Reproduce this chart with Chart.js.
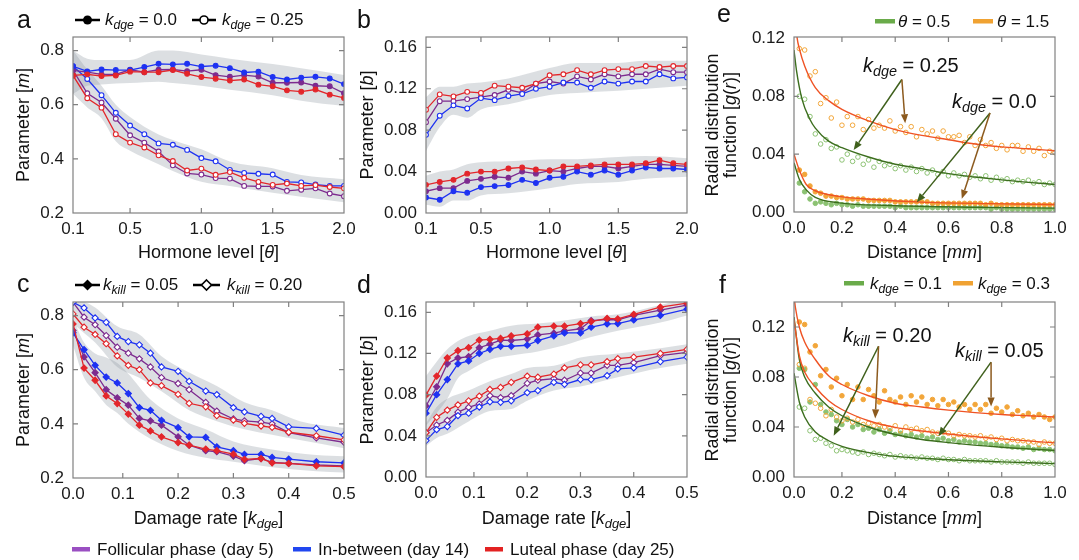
<!DOCTYPE html>
<html>
<head>
<meta charset="utf-8">
<script src="https://cdn.jsdelivr.net/npm/chart.js@4.4.1/dist/chart.umd.min.js"></script>
<style>
body { margin: 0; background: #fff; }
#page { position: relative; width: 1079px; height: 560px; overflow: hidden; font-family: "Liberation Sans", Arial, sans-serif; color: #111; }
.cv { position: absolute; }
.ov { position: absolute; left: 0; top: 0; pointer-events: none; }
.t { position: absolute; white-space: nowrap; line-height: 1; }
.t sub { font-size: 0.72em; line-height: 0; vertical-align: -0.3em; font-style: italic; }
.c { transform: translateX(-50%); }
.r { transform: translate(-50%, -50%) rotate(-90deg); }
.let { font-size: 25px; }
.lg { font-size: 17px; }
.ax { font-size: 18px; }
.an { font-size: 20px; }
</style>
</head>
<body>
<div id="page">
  <canvas id="ca" class="cv" style="left:0px;top:30px" width="360" height="215"></canvas>
  <canvas id="cb" class="cv" style="left:360px;top:30px" width="350" height="215"></canvas>
  <canvas id="ce" class="cv" style="left:745px;top:30px" width="334" height="215"></canvas>
  <canvas id="cc" class="cv" style="left:0px;top:295px" width="360" height="215"></canvas>
  <canvas id="cd" class="cv" style="left:360px;top:295px" width="350" height="215"></canvas>
  <canvas id="cf" class="cv" style="left:745px;top:295px" width="334" height="215"></canvas>

  <svg class="ov" width="1079" height="560">
    <line x1="75" y1="20" x2="100" y2="20" stroke="#000" stroke-width="2.5"/>
    <circle cx="87.5" cy="20" r="4.5" fill="#000"/>
    <line x1="192" y1="20" x2="216" y2="20" stroke="#000" stroke-width="2.5"/>
    <circle cx="204" cy="20" r="4" fill="#fff" stroke="#000" stroke-width="1.6"/>
    <line x1="75" y1="285" x2="100" y2="285" stroke="#000" stroke-width="2.5"/>
    <polygon points="87.5,279.5 93,285 87.5,290.5 82,285" fill="#000"/>
    <line x1="193" y1="285" x2="220" y2="285" stroke="#000" stroke-width="2.5"/>
    <polygon points="206.5,280 211.5,285 206.5,290 201.5,285" fill="#fff" stroke="#000" stroke-width="1.6"/>
    <rect x="875" y="19" width="20" height="4.5" fill="#6aab4a"/>
    <rect x="973" y="19" width="20" height="4.5" fill="#f0a232"/>
    <rect x="844" y="281" width="20" height="4.5" fill="#6aab4a"/>
    <rect x="953" y="281" width="20" height="4.5" fill="#f0a232"/>
    <rect x="72" y="547" width="18" height="4.5" fill="#9a4fc2"/>
    <rect x="293" y="547" width="18" height="4.5" fill="#2147f0"/>
    <rect x="485" y="547" width="18" height="4.5" fill="#e32222"/>
  </svg>

  <div class="t let" style="left:17px;top:7px">a</div>
  <div class="t let" style="left:357px;top:7px">b</div>
  <div class="t let" style="left:717px;top:1px">e</div>
  <div class="t let" style="left:17px;top:271px">c</div>
  <div class="t let" style="left:357px;top:272px">d</div>
  <div class="t let" style="left:719px;top:272px">f</div>

  <div class="t lg" style="left:105px;top:10.6px"><i>k</i><sub>dge</sub> = 0.0</div>
  <div class="t lg" style="left:222px;top:10.6px"><i>k</i><sub>dge</sub> = 0.25</div>
  <div class="t lg" style="left:103px;top:275.6px"><i>k</i><sub>kill</sub> = 0.05</div>
  <div class="t lg" style="left:227px;top:275.6px"><i>k</i><sub>kill</sub> = 0.20</div>
  <div class="t lg" style="left:898px;top:12.6px"><i>θ</i> = 0.5</div>
  <div class="t lg" style="left:997px;top:12.6px"><i>θ</i> = 1.5</div>
  <div class="t lg" style="left:870px;top:274.6px"><i>k</i><sub>dge</sub> = 0.1</div>
  <div class="t lg" style="left:978px;top:274.6px"><i>k</i><sub>dge</sub> = 0.3</div>
  <div class="t lg" style="left:97px;top:540.6px">Follicular phase (day 5)</div>
  <div class="t lg" style="left:318px;top:540.6px">In-between (day 14)</div>
  <div class="t lg" style="left:510px;top:540.6px">Luteal phase (day 25)</div>

  <div class="t ax c" style="left:208.5px;top:242.8px">Hormone level [<i>θ</i>]</div>
  <div class="t ax c" style="left:556.5px;top:242.8px">Hormone level [<i>θ</i>]</div>
  <div class="t ax c" style="left:924.5px;top:242.8px">Distance [<i>mm</i>]</div>
  <div class="t ax c" style="left:208.5px;top:508.8px">Damage rate [<i>k</i><sub>dge</sub>]</div>
  <div class="t ax c" style="left:556.5px;top:508.8px">Damage rate [<i>k</i><sub>dge</sub>]</div>
  <div class="t ax c" style="left:924.5px;top:508.8px">Distance [<i>mm</i>]</div>

  <div class="t ax r" style="left:23px;top:125px">Parameter [<i>m</i>]</div>
  <div class="t ax r" style="left:367px;top:125px">Parameter [<i>b</i>]</div>
  <div class="t ax r" style="left:712px;top:125px">Radial distribution</div>
  <div class="t ax r" style="left:730px;top:125px">function [<i>g</i>(<i>r</i>)]</div>
  <div class="t ax r" style="left:23px;top:390px">Parameter [<i>m</i>]</div>
  <div class="t ax r" style="left:367px;top:390px">Parameter [<i>b</i>]</div>
  <div class="t ax r" style="left:712px;top:390px">Radial distribution</div>
  <div class="t ax r" style="left:730px;top:390px">function [<i>g</i>(<i>r</i>)]</div>

  <div class="t an" style="left:863px;top:55px"><i>k</i><sub>dge</sub> = 0.25</div>
  <div class="t an" style="left:952px;top:91px"><i>k</i><sub>dge</sub> = 0.0</div>
  <div class="t an" style="left:843px;top:325px"><i>k</i><sub>kill</sub> = 0.20</div>
  <div class="t an" style="left:955px;top:340px"><i>k</i><sub>kill</sub> = 0.05</div>
</div>

<script>
// hormone level (panels a, b)
const hormone = [0.1, 0.2, 0.3, 0.4, 0.5, 0.6, 0.7, 0.8, 0.9, 1.0, 1.1, 1.2, 1.3, 1.4, 1.5, 1.6, 1.7, 1.8, 1.9, 2.0];
// damage rate (panels c, d)
const damage = [0.01, 0.03, 0.05, 0.07, 0.09, 0.11, 0.13, 0.15, 0.17, 0.20, 0.22, 0.25, 0.27, 0.30, 0.32, 0.35, 0.37, 0.40, 0.45, 0.50];
// distance bins (panels e, f)
const dist = [0.04, 0.06, 0.08, 0.10, 0.12, 0.14, 0.16, 0.18, 0.20, 0.22, 0.24, 0.26, 0.28, 0.30, 0.32, 0.34, 0.36, 0.38, 0.40, 0.42,
              0.44, 0.46, 0.48, 0.50, 0.52, 0.54, 0.56, 0.58, 0.60, 0.62, 0.64, 0.66, 0.68, 0.70, 0.72, 0.74, 0.76, 0.78, 0.80, 0.82,
              0.84, 0.86, 0.88, 0.90, 0.92, 0.94, 0.96, 0.98, 1.00];

// panel a: parameter m vs hormone level
const aPurpleSolid = [0.727, 0.720, 0.712, 0.712, 0.729, 0.720, 0.729, 0.730, 0.724, 0.729, 0.709, 0.703, 0.709, 0.704, 0.681, 0.681, 0.682, 0.670, 0.668, 0.642];
const aBlueSolid   = [0.742, 0.723, 0.730, 0.728, 0.728, 0.739, 0.751, 0.749, 0.751, 0.741, 0.744, 0.735, 0.719, 0.722, 0.702, 0.693, 0.700, 0.703, 0.697, 0.676];
const aRedSolid    = [0.708, 0.712, 0.706, 0.708, 0.722, 0.720, 0.720, 0.728, 0.714, 0.702, 0.696, 0.689, 0.693, 0.674, 0.668, 0.653, 0.648, 0.656, 0.637, 0.625];
const aPurpleOpen  = [0.727, 0.642, 0.608, 0.548, 0.487, 0.460, 0.427, 0.376, 0.346, 0.342, 0.329, 0.327, 0.300, 0.298, 0.298, 0.282, 0.286, 0.291, 0.272, 0.262];
const aBlueOpen    = [0.742, 0.695, 0.635, 0.570, 0.523, 0.491, 0.457, 0.452, 0.433, 0.403, 0.391, 0.359, 0.348, 0.345, 0.342, 0.315, 0.313, 0.305, 0.300, 0.300];
const aRedOpen     = [0.708, 0.624, 0.589, 0.491, 0.460, 0.442, 0.413, 0.392, 0.357, 0.364, 0.341, 0.351, 0.330, 0.315, 0.304, 0.309, 0.300, 0.303, 0.296, 0.291];
const aBandX = [0.1, 0.2, 0.3, 0.4, 0.5, 0.7, 0.8, 1.0, 1.2, 1.5, 1.7, 2.0];
const aSolidLo = [0.640, 0.670, 0.675, 0.678, 0.680, 0.685, 0.680, 0.670, 0.655, 0.635, 0.615, 0.595];
const aSolidHi = [0.800, 0.770, 0.765, 0.765, 0.765, 0.800, 0.800, 0.785, 0.770, 0.750, 0.735, 0.710];
const aOpenLo  = [0.640, 0.590, 0.550, 0.465, 0.430, 0.380, 0.355, 0.315, 0.300, 0.275, 0.260, 0.240];
const aOpenHi  = [0.800, 0.730, 0.670, 0.600, 0.555, 0.490, 0.470, 0.435, 0.390, 0.365, 0.340, 0.325];

// panel b: parameter b vs hormone level
const bPurpleOpen  = [0.0877, 0.108, 0.108, 0.110, 0.112, 0.114, 0.119, 0.116, 0.125, 0.127, 0.125, 0.132, 0.129, 0.134, 0.132, 0.134, 0.134, 0.139, 0.136, 0.136];
const bBlueOpen    = [0.0755, 0.094, 0.104, 0.101, 0.111, 0.109, 0.113, 0.115, 0.120, 0.122, 0.126, 0.126, 0.121, 0.127, 0.125, 0.127, 0.127, 0.134, 0.130, 0.131];
const bRedOpen     = [0.0998, 0.1146, 0.1126, 0.117, 0.116, 0.123, 0.122, 0.121, 0.125, 0.133, 0.134, 0.138, 0.134, 0.138, 0.139, 0.139, 0.142, 0.141, 0.142, 0.142];
const bPurpleSolid = [0.021, 0.024, 0.024, 0.031, 0.033, 0.035, 0.034, 0.040, 0.038, 0.041, 0.040, 0.043, 0.045, 0.045, 0.043, 0.045, 0.047, 0.047, 0.046, 0.045];
const bBlueSolid   = [0.015, 0.0128, 0.021, 0.0195, 0.025, 0.026, 0.027, 0.032, 0.029, 0.034, 0.035, 0.040, 0.037, 0.041, 0.037, 0.041, 0.044, 0.043, 0.043, 0.042];
const bRedSolid    = [0.0272, 0.030, 0.032, 0.038, 0.040, 0.040, 0.043, 0.044, 0.042, 0.041, 0.045, 0.045, 0.046, 0.047, 0.047, 0.047, 0.048, 0.051, 0.048, 0.047];
const bBandX = [0.1, 0.2, 0.3, 0.4, 0.5, 0.7, 1.0, 1.2, 1.5, 1.7, 2.0];
const bOpenLo  = [0.060, 0.083, 0.095, 0.092, 0.100, 0.105, 0.114, 0.116, 0.118, 0.120, 0.123];
const bOpenHi  = [0.112, 0.122, 0.122, 0.125, 0.126, 0.130, 0.140, 0.145, 0.145, 0.147, 0.147];
const bSolidLo = [0.008, 0.006, 0.012, 0.012, 0.017, 0.019, 0.024, 0.028, 0.030, 0.033, 0.035];
const bSolidHi = [0.036, 0.040, 0.042, 0.047, 0.049, 0.050, 0.052, 0.052, 0.054, 0.055, 0.053];

// panel c: parameter m vs damage rate
const cPurpleOpen  = [0.849, 0.794, 0.766, 0.726, 0.683, 0.661, 0.640, 0.610, 0.571, 0.549, 0.526, 0.479, 0.447, 0.418, 0.411, 0.406, 0.400, 0.368, 0.348, 0.332];
const cBlueOpen    = [0.849, 0.828, 0.791, 0.775, 0.723, 0.704, 0.692, 0.661, 0.610, 0.594, 0.557, 0.521, 0.508, 0.460, 0.444, 0.428, 0.420, 0.389, 0.383, 0.358];
const cRedOpen     = [0.806, 0.757, 0.730, 0.696, 0.651, 0.616, 0.600, 0.551, 0.541, 0.509, 0.476, 0.463, 0.430, 0.414, 0.402, 0.392, 0.387, 0.369, 0.356, 0.341];
const cPurpleSolid = [0.745, 0.647, 0.589, 0.526, 0.496, 0.469, 0.420, 0.411, 0.395, 0.352, 0.321, 0.301, 0.297, 0.281, 0.264, 0.272, 0.258, 0.254, 0.248, 0.245];
const cBlueSolid   = [0.736, 0.674, 0.616, 0.573, 0.551, 0.512, 0.460, 0.450, 0.413, 0.386, 0.352, 0.350, 0.315, 0.301, 0.287, 0.287, 0.276, 0.270, 0.260, 0.256];
const cRedSolid    = [0.769, 0.606, 0.561, 0.503, 0.475, 0.436, 0.395, 0.374, 0.352, 0.331, 0.321, 0.307, 0.301, 0.288, 0.269, 0.272, 0.256, 0.254, 0.245, 0.242];
const cOpenX  = [0.01, 0.05, 0.09, 0.13, 0.17, 0.22, 0.27, 0.32, 0.37, 0.42, 0.50];
const cOpenLo = [0.770, 0.700, 0.610, 0.570, 0.520, 0.450, 0.410, 0.380, 0.360, 0.340, 0.310];
const cOpenHi = [0.870, 0.830, 0.760, 0.730, 0.650, 0.590, 0.540, 0.480, 0.450, 0.410, 0.385];
const cSolidX  = [0.01, 0.03, 0.05, 0.07, 0.09, 0.11, 0.15, 0.20, 0.25, 0.30, 0.37, 0.45, 0.50];
const cSolidLo = [0.690, 0.570, 0.520, 0.470, 0.440, 0.400, 0.345, 0.300, 0.275, 0.260, 0.240, 0.225, 0.220];
const cSolidHi = [0.790, 0.700, 0.660, 0.645, 0.625, 0.585, 0.490, 0.420, 0.380, 0.335, 0.305, 0.285, 0.280];

// panel d: parameter b vs damage rate
const dPurpleSolid = [0.069, 0.0876, 0.110, 0.1156, 0.117, 0.1256, 0.129, 0.133, 0.1326, 0.134, 0.138, 0.1397, 0.142, 0.144, 0.152, 0.153, 0.1526, 0.157, 0.162, 0.167];
const dBlueSolid   = [0.062, 0.080, 0.0947, 0.110, 0.1127, 0.120, 0.124, 0.127, 0.127, 0.128, 0.1326, 0.137, 0.140, 0.140, 0.1455, 0.1487, 0.149, 0.1526, 0.157, 0.163];
const dRedSolid    = [0.0795, 0.098, 0.1156, 0.1227, 0.1256, 0.133, 0.1336, 0.1346, 0.137, 0.139, 0.1455, 0.1465, 0.1465, 0.149, 0.151, 0.154, 0.1536, 0.158, 0.165, 0.169];
const dPurpleOpen  = [0.043, 0.0505, 0.055, 0.063, 0.0676, 0.071, 0.079, 0.077, 0.079, 0.091, 0.094, 0.0956, 0.094, 0.101, 0.101, 0.1085, 0.1085, 0.111, 0.118, 0.121];
const dBlueOpen    = [0.0354, 0.046, 0.049, 0.0596, 0.062, 0.068, 0.073, 0.0725, 0.074, 0.082, 0.084, 0.092, 0.090, 0.0947, 0.0947, 0.0985, 0.105, 0.106, 0.112, 0.1165];
const dRedOpen     = [0.043, 0.058, 0.065, 0.070, 0.074, 0.0786, 0.085, 0.087, 0.092, 0.098, 0.097, 0.100, 0.106, 0.109, 0.109, 0.112, 0.115, 0.1165, 0.120, 0.124];
const dSolidX  = [0.01, 0.03, 0.05, 0.07, 0.09, 0.13, 0.17, 0.22, 0.27, 0.32, 0.37, 0.45, 0.50];
const dSolidLo = [0.050, 0.062, 0.076, 0.096, 0.103, 0.114, 0.118, 0.122, 0.128, 0.136, 0.142, 0.150, 0.157];
const dSolidHi = [0.098, 0.112, 0.124, 0.132, 0.137, 0.142, 0.147, 0.149, 0.152, 0.156, 0.158, 0.167, 0.174];
const dOpenX  = [0.01, 0.03, 0.05, 0.09, 0.13, 0.17, 0.20, 0.25, 0.30, 0.37, 0.45, 0.50];
const dOpenLo = [0.030, 0.038, 0.042, 0.054, 0.064, 0.066, 0.074, 0.084, 0.088, 0.097, 0.106, 0.110];
const dOpenHi = [0.052, 0.068, 0.076, 0.084, 0.093, 0.100, 0.106, 0.108, 0.116, 0.120, 0.125, 0.129];

// panel e: g(r), open = k_dge 0.25, filled = k_dge 0.0
const eOrangeOpen = [0.113, 0.112, 0.094, 0.097, 0.075, 0.079, 0.065, 0.076, 0.060, 0.066,
                     0.060, 0.066, 0.057, 0.064, 0.058, 0.060, 0.058, 0.063, 0.056, 0.059,
                     0.055, 0.059, 0.052, 0.057, 0.054, 0.056, 0.051, 0.056, 0.052, 0.052,
                     0.053, 0.048, 0.052, 0.046, 0.050, 0.046, 0.048, 0.044, 0.046, 0.043,
                     0.046, 0.046, 0.042, 0.045, 0.042, 0.044, 0.039, 0.042, 0.041];
const eGreenOpen  = [0.080, 0.078, 0.066, 0.054, 0.047, 0.050, 0.044, 0.045, 0.036, 0.040,
                     0.035, 0.038, 0.033, 0.036, 0.031, 0.035, 0.032, 0.033, 0.030, 0.032,
                     0.029, 0.031, 0.028, 0.030, 0.027, 0.029, 0.026, 0.028, 0.025, 0.027,
                     0.025, 0.026, 0.024, 0.025, 0.023, 0.025, 0.022, 0.024, 0.022, 0.023,
                     0.021, 0.022, 0.021, 0.022, 0.020, 0.021, 0.019, 0.020, 0.019];
const eOrangeSolid = [0.029, 0.026, 0.018, 0.014, 0.013, 0.011, 0.011, 0.010, 0.010, 0.009,
                      0.009, 0.009, 0.009, 0.008, 0.008, 0.008, 0.008, 0.008, 0.007, 0.007,
                      0.007, 0.007, 0.007, 0.007, 0.007, 0.006, 0.006, 0.006, 0.006, 0.006,
                      0.006, 0.006, 0.006, 0.006, 0.006, 0.005, 0.006, 0.005, 0.005, 0.005,
                      0.005, 0.005, 0.005, 0.005, 0.005, 0.005, 0.005, 0.005, 0.005];
const eGreenSolid = [0.020, 0.014, 0.009, 0.006, 0.007, 0.006, 0.005, 0.006, 0.005, 0.005,
                     0.004, 0.005, 0.004, 0.004, 0.004, 0.004, 0.004, 0.004, 0.003, 0.004,
                     0.003, 0.003, 0.003, 0.003, 0.003, 0.003, 0.003, 0.003, 0.003, 0.003,
                     0.003, 0.003, 0.003, 0.003, 0.003, 0.003, 0.002, 0.003, 0.002, 0.002,
                     0.002, 0.002, 0.002, 0.002, 0.002, 0.002, 0.002, 0.002, 0.002];
const eFitOrangeHiX = [0.028, 0.032, 0.04, 0.06, 0.1, 0.15, 0.2, 0.3, 0.4, 0.5, 0.6, 0.7, 0.8, 0.9, 1.0];
const eFitOrangeHi  = [0.128, 0.120, 0.113, 0.101, 0.086, 0.077, 0.071, 0.063, 0.057, 0.053, 0.050, 0.047, 0.045, 0.0437, 0.0423];
const eFitGreenHiX = [0.02, 0.03, 0.05, 0.08, 0.1, 0.15, 0.2, 0.3, 0.4, 0.5, 0.6, 0.7, 0.8, 0.9, 1.0];
const eFitGreenHi  = [0.112, 0.097, 0.078, 0.064, 0.058, 0.049, 0.0445, 0.038, 0.033, 0.030, 0.0265, 0.0242, 0.0222, 0.0205, 0.019];
const eFitOrangeLoX = [0.02, 0.04, 0.066, 0.1, 0.19, 0.32, 0.5, 0.75, 1.0];
const eFitOrangeLo  = [0.040, 0.029, 0.019, 0.0147, 0.0108, 0.0086, 0.0068, 0.0058, 0.0052];
const eFitGreenLoX = [0.02, 0.04, 0.066, 0.1, 0.19, 0.38, 0.7, 1.0];
const eFitGreenLo  = [0.034, 0.0226, 0.0153, 0.0101, 0.0063, 0.0045, 0.0033, 0.0027];

// panel f: g(r), filled = k_kill 0.05, open = k_kill 0.20
const fOrangeSolid = [0.124, 0.122, 0.100, 0.105, 0.081, 0.086, 0.072, 0.079, 0.065, 0.074,
                      0.062, 0.072, 0.062, 0.070, 0.065, 0.060, 0.069, 0.062, 0.060, 0.064,
                      0.058, 0.065, 0.060, 0.064, 0.058, 0.062, 0.057, 0.062, 0.058, 0.060,
                      0.056, 0.058, 0.054, 0.058, 0.054, 0.058, 0.051, 0.055, 0.052, 0.056,
                      0.050, 0.053, 0.049, 0.051, 0.048, 0.050, 0.048, 0.046, 0.048];
const fOrangeOpen = [0.090, 0.087, 0.062, 0.059, 0.055, 0.049, 0.054, 0.048, 0.045, 0.047,
                     0.044, 0.046, 0.042, 0.043, 0.041, 0.042, 0.040, 0.039, 0.041, 0.037,
                     0.040, 0.038, 0.039, 0.037, 0.038, 0.036, 0.035, 0.036, 0.035, 0.033,
                     0.034, 0.033, 0.033, 0.032, 0.033, 0.031, 0.032, 0.030, 0.031, 0.029,
                     0.030, 0.029, 0.029, 0.028, 0.028, 0.026, 0.028, 0.027, 0.027];
const fGreenSolid = [0.087, 0.086, 0.060, 0.074, 0.058, 0.052, 0.050, 0.045, 0.042, 0.046,
                     0.040, 0.042, 0.038, 0.039, 0.036, 0.038, 0.035, 0.037, 0.034, 0.035,
                     0.033, 0.034, 0.032, 0.033, 0.031, 0.032, 0.030, 0.031, 0.029, 0.030,
                     0.028, 0.029, 0.028, 0.028, 0.027, 0.027, 0.026, 0.026, 0.025, 0.025,
                     0.024, 0.024, 0.023, 0.024, 0.022, 0.023, 0.022, 0.022, 0.021];
const fGreenOpen  = [0.056, 0.055, 0.037, 0.030, 0.031, 0.027, 0.025, 0.021, 0.022, 0.021,
                     0.020, 0.019, 0.020, 0.018, 0.019, 0.018, 0.017, 0.018, 0.016, 0.017,
                     0.016, 0.016, 0.015, 0.016, 0.015, 0.015, 0.014, 0.015, 0.014, 0.014,
                     0.013, 0.014, 0.013, 0.013, 0.013, 0.013, 0.012, 0.013, 0.012, 0.012,
                     0.012, 0.012, 0.011, 0.012, 0.011, 0.011, 0.011, 0.011, 0.010];
const fFitOrangeHiX = [0.02, 0.025, 0.04, 0.06, 0.1, 0.15, 0.2, 0.3, 0.4, 0.5, 0.6, 0.7, 0.8, 0.9, 1.0];
const fFitOrangeHi  = [0.145, 0.136, 0.120, 0.108, 0.094, 0.081, 0.074, 0.065, 0.059, 0.056, 0.0535, 0.0515, 0.050, 0.049, 0.048];
const fFitX = [0.02, 0.04, 0.06, 0.1, 0.15, 0.2, 0.3, 0.4, 0.5, 0.6, 0.8, 1.0];
const fFitOrangeLo = [0.126, 0.097, 0.084, 0.072, 0.061, 0.054, 0.045, 0.0397, 0.0368, 0.0344, 0.0305, 0.0273];
const fFitGreenHi  = [0.128, 0.094, 0.080, 0.067, 0.056, 0.049, 0.040, 0.034, 0.030, 0.0275, 0.0238, 0.0212];
const fFitGreenLo  = [0.083, 0.060, 0.048, 0.036, 0.029, 0.0245, 0.0195, 0.0165, 0.015, 0.0138, 0.0121, 0.0107];

const FONT = '"Liberation Sans", Arial, sans-serif';
const PURPLE = '#7d2b8f', BLUE = '#1e32f2', RED = '#e3262b';
const BAND = 'rgba(140,148,160,0.3)';
const OR_PT = '#f2a63a', GR_PT = '#8cc273', OR_FIT = '#ef5324', GR_FIT = '#3c6e1e';
const ARROW_GREEN = '#3f601c', ARROW_BROWN = '#8c5a1e';

function pts(xs, ys) { return xs.map((x, i) => ({x: x, y: ys[i]})); }

// Chart.js draws higher `order` first, so bands (order 3) sit under everything
function band(xs, lo, hi) {
    return [
        {data: pts(xs, lo), order: 3, borderWidth: 0, borderColor: 'rgba(0,0,0,0)', pointRadius: 0, fill: false, cubicInterpolationMode: 'monotone'},
        {data: pts(xs, hi), order: 3, borderWidth: 0, borderColor: 'rgba(0,0,0,0)', pointRadius: 0, fill: '-1', backgroundColor: BAND, cubicInterpolationMode: 'monotone'}
    ];
}

function series(xs, ys, color, filled, style) {
    return {
        data: pts(xs, ys), order: 1, borderColor: color, borderWidth: 1.3, fill: false,
        pointStyle: style, pointRadius: style === 'rectRot' ? 3.1 : 2.4, pointBorderWidth: 1.1,
        pointBorderColor: color, pointBackgroundColor: filled ? color : '#fff'
    };
}

function dots(xs, ys, color, filled) {
    return {
        type: 'scatter', data: pts(xs, ys), order: 2, showLine: false, pointRadius: 2.3, pointBorderWidth: 1,
        pointBorderColor: color, pointBackgroundColor: filled ? color : 'rgba(255,255,255,0)'
    };
}

function curve(xs, ys, color) {
    return {data: pts(xs, ys), order: 1, borderColor: color, borderWidth: 1.4, pointRadius: 0, fill: false, cubicInterpolationMode: 'monotone'};
}

// box frame with inward tick marks on all four sides
const framePlugin = {
    id: 'frame',
    afterDatasetsDraw(chart) {
        const {ctx, chartArea: a, scales} = chart;
        ctx.save();
        ctx.strokeStyle = '#808080';
        ctx.lineWidth = 1.2;
        ctx.strokeRect(a.left, a.top, a.right - a.left, a.bottom - a.top);
        ctx.beginPath();
        scales.x.ticks.forEach(t => {
            const p = scales.x.getPixelForValue(t.value);
            if (p - a.left < 2 || a.right - p < 2) return;
            ctx.moveTo(p, a.bottom); ctx.lineTo(p, a.bottom - 5);
            ctx.moveTo(p, a.top); ctx.lineTo(p, a.top + 5);
        });
        scales.y.ticks.forEach(t => {
            const p = scales.y.getPixelForValue(t.value);
            if (p - a.top < 2 || a.bottom - p < 2) return;
            ctx.moveTo(a.left, p); ctx.lineTo(a.left + 5, p);
            ctx.moveTo(a.right, p); ctx.lineTo(a.right - 5, p);
        });
        ctx.stroke();
        ctx.restore();
    }
};

function arrowPlugin(list) {
    return {
        id: 'arrows',
        afterDatasetsDraw(chart) {
            const {ctx, scales: {x, y}} = chart;
            list.forEach(a => {
                const x0 = x.getPixelForValue(a.from[0]), y0 = y.getPixelForValue(a.from[1]);
                const x1 = x.getPixelForValue(a.to[0]), y1 = y.getPixelForValue(a.to[1]);
                const ang = Math.atan2(y1 - y0, x1 - x0), L = 9, W = 3.6;
                const bx = x1 - L * Math.cos(ang), by = y1 - L * Math.sin(ang);
                ctx.save();
                ctx.strokeStyle = a.color;
                ctx.fillStyle = a.color;
                ctx.lineWidth = 1.5;
                ctx.beginPath(); ctx.moveTo(x0, y0); ctx.lineTo(bx, by); ctx.stroke();
                ctx.beginPath();
                ctx.moveTo(x1, y1);
                ctx.lineTo(bx + W * Math.sin(ang), by - W * Math.cos(ang));
                ctx.lineTo(bx - W * Math.sin(ang), by + W * Math.cos(ang));
                ctx.closePath(); ctx.fill();
                ctx.restore();
            });
        }
    };
}

function axisOpts(a, axis, size) {
    return {
        type: 'linear', min: a.min, max: a.max,
        grid: {display: false, drawTicks: false},
        border: {display: false},
        ticks: {
            font: {family: FONT, size: 17}, color: '#1a1a1a',
            padding: axis === 'x' ? 6 : 9, maxRotation: 0, autoSkip: false,
            callback: v => Number(v).toFixed(a.dec)
        },
        afterBuildTicks: s => { s.ticks = a.ticks.map(v => ({value: v})); },
        afterFit: s => {
            if (axis === 'x') s.height = size; else s.width = size;
            s.paddingLeft = 0; s.paddingRight = 0; s.paddingTop = 0; s.paddingBottom = 0;
        }
    };
}

// box: canvas position on the page, area: plot frame on the page
function panel(id, box, area, xa, ya, datasets, arrows) {
    new Chart(document.getElementById(id), {
        type: 'line',
        data: {datasets: datasets},
        options: {
            responsive: false, animation: false, events: [],
            layout: {padding: {top: area.t - box.top, right: box.left + box.w - area.r, left: 0, bottom: 0}},
            plugins: {legend: {display: false}, tooltip: {enabled: false}},
            scales: {
                x: axisOpts(xa, 'x', box.top + box.h - area.b),
                y: axisOpts(ya, 'y', area.l - box.left)
            }
        },
        plugins: [framePlugin, arrowPlugin(arrows || [])]
    });
}

const xHormone = {min: 0.1, max: 2.0, ticks: [0.1, 0.5, 1.0, 1.5, 2.0], dec: 1};
const xDamage = {min: 0.01, max: 0.5, ticks: [0.01, 0.1, 0.2, 0.3, 0.4, 0.5], dec: 1};
const xDist = {min: 0.02, max: 1.0, ticks: [0.02, 0.2, 0.4, 0.6, 0.8, 1.0], dec: 1};
const yM = {min: 0.2, max: 0.85, ticks: [0.2, 0.4, 0.6, 0.8], dec: 1};
const yB = {min: 0, max: 0.17, ticks: [0, 0.04, 0.08, 0.12, 0.16], dec: 2};

// lines listed first are drawn on top
panel('ca', {left: 0, top: 30, w: 360, h: 215}, {l: 73, t: 37, r: 344, b: 213}, xHormone, yM, [
    ...band(aBandX, aSolidLo, aSolidHi), ...band(aBandX, aOpenLo, aOpenHi),
    series(hormone, aRedSolid, RED, true, 'circle'), series(hormone, aBlueSolid, BLUE, true, 'circle'), series(hormone, aPurpleSolid, PURPLE, true, 'circle'),
    series(hormone, aRedOpen, RED, false, 'circle'), series(hormone, aBlueOpen, BLUE, false, 'circle'), series(hormone, aPurpleOpen, PURPLE, false, 'circle')
]);

panel('cb', {left: 360, top: 30, w: 350, h: 215}, {l: 426, t: 37, r: 687, b: 213}, xHormone, yB, [
    ...band(bBandX, bOpenLo, bOpenHi), ...band(bBandX, bSolidLo, bSolidHi),
    series(hormone, bRedOpen, RED, false, 'circle'), series(hormone, bBlueOpen, BLUE, false, 'circle'), series(hormone, bPurpleOpen, PURPLE, false, 'circle'),
    series(hormone, bRedSolid, RED, true, 'circle'), series(hormone, bBlueSolid, BLUE, true, 'circle'), series(hormone, bPurpleSolid, PURPLE, true, 'circle')
]);

panel('cc', {left: 0, top: 295, w: 360, h: 215}, {l: 73, t: 302, r: 344, b: 478}, xDamage, yM, [
    ...band(cOpenX, cOpenLo, cOpenHi), ...band(cSolidX, cSolidLo, cSolidHi),
    series(damage, cRedOpen, RED, false, 'rectRot'), series(damage, cBlueOpen, BLUE, false, 'rectRot'), series(damage, cPurpleOpen, PURPLE, false, 'rectRot'),
    series(damage, cRedSolid, RED, true, 'rectRot'), series(damage, cBlueSolid, BLUE, true, 'rectRot'), series(damage, cPurpleSolid, PURPLE, true, 'rectRot')
]);

panel('cd', {left: 360, top: 295, w: 350, h: 215}, {l: 426, t: 302, r: 687, b: 477}, xDamage, yB, [
    ...band(dSolidX, dSolidLo, dSolidHi), ...band(dOpenX, dOpenLo, dOpenHi),
    series(damage, dRedSolid, RED, true, 'rectRot'), series(damage, dBlueSolid, BLUE, true, 'rectRot'), series(damage, dPurpleSolid, PURPLE, true, 'rectRot'),
    series(damage, dRedOpen, RED, false, 'rectRot'), series(damage, dBlueOpen, BLUE, false, 'rectRot'), series(damage, dPurpleOpen, PURPLE, false, 'rectRot')
]);

panel('ce', {left: 745, top: 30, w: 334, h: 215}, {l: 794, t: 37, r: 1055, b: 212}, xDist,
    {min: 0, max: 0.121, ticks: [0, 0.04, 0.08, 0.12], dec: 2}, [
    dots(dist, eOrangeOpen, OR_PT, false), dots(dist, eGreenOpen, GR_PT, false),
    dots(dist, eOrangeSolid, OR_PT, true), dots(dist, eGreenSolid, GR_PT, true),
    curve(eFitOrangeHiX, eFitOrangeHi, OR_FIT), curve(eFitGreenHiX, eFitGreenHi, GR_FIT),
    curve(eFitOrangeLoX, eFitOrangeLo, OR_FIT), curve(eFitGreenLoX, eFitGreenLo, GR_FIT)
], [
    {from: [0.425, 0.0916], to: [0.244, 0.0428], color: ARROW_GREEN},
    {from: [0.425, 0.0916], to: [0.4375, 0.0614], color: ARROW_BROWN},
    {from: [0.756, 0.0684], to: [0.481, 0.0067], color: ARROW_GREEN},
    {from: [0.756, 0.0684], to: [0.65, 0.0091], color: ARROW_BROWN}
]);

panel('cf', {left: 745, top: 295, w: 334, h: 215}, {l: 794, t: 302, r: 1055, b: 477}, xDist,
    {min: 0, max: 0.14, ticks: [0, 0.04, 0.08, 0.12], dec: 2}, [
    dots(dist, fOrangeSolid, OR_PT, true), dots(dist, fOrangeOpen, OR_PT, false),
    dots(dist, fGreenSolid, GR_PT, true), dots(dist, fGreenOpen, GR_PT, false),
    curve(fFitOrangeHiX, fFitOrangeHi, OR_FIT), curve(fFitX, fFitOrangeLo, OR_FIT),
    curve(fFitX, fFitGreenHi, GR_FIT), curve(fFitX, fFitGreenLo, GR_FIT)
], [
    {from: [0.3375, 0.1046], to: [0.169, 0.0331], color: ARROW_GREEN},
    {from: [0.3375, 0.1046], to: [0.325, 0.0469], color: ARROW_BROWN},
    {from: [0.76, 0.0919], to: [0.5625, 0.0326], color: ARROW_GREEN},
    {from: [0.76, 0.0919], to: [0.76, 0.0564], color: ARROW_BROWN}
]);
</script>
</body>
</html>
